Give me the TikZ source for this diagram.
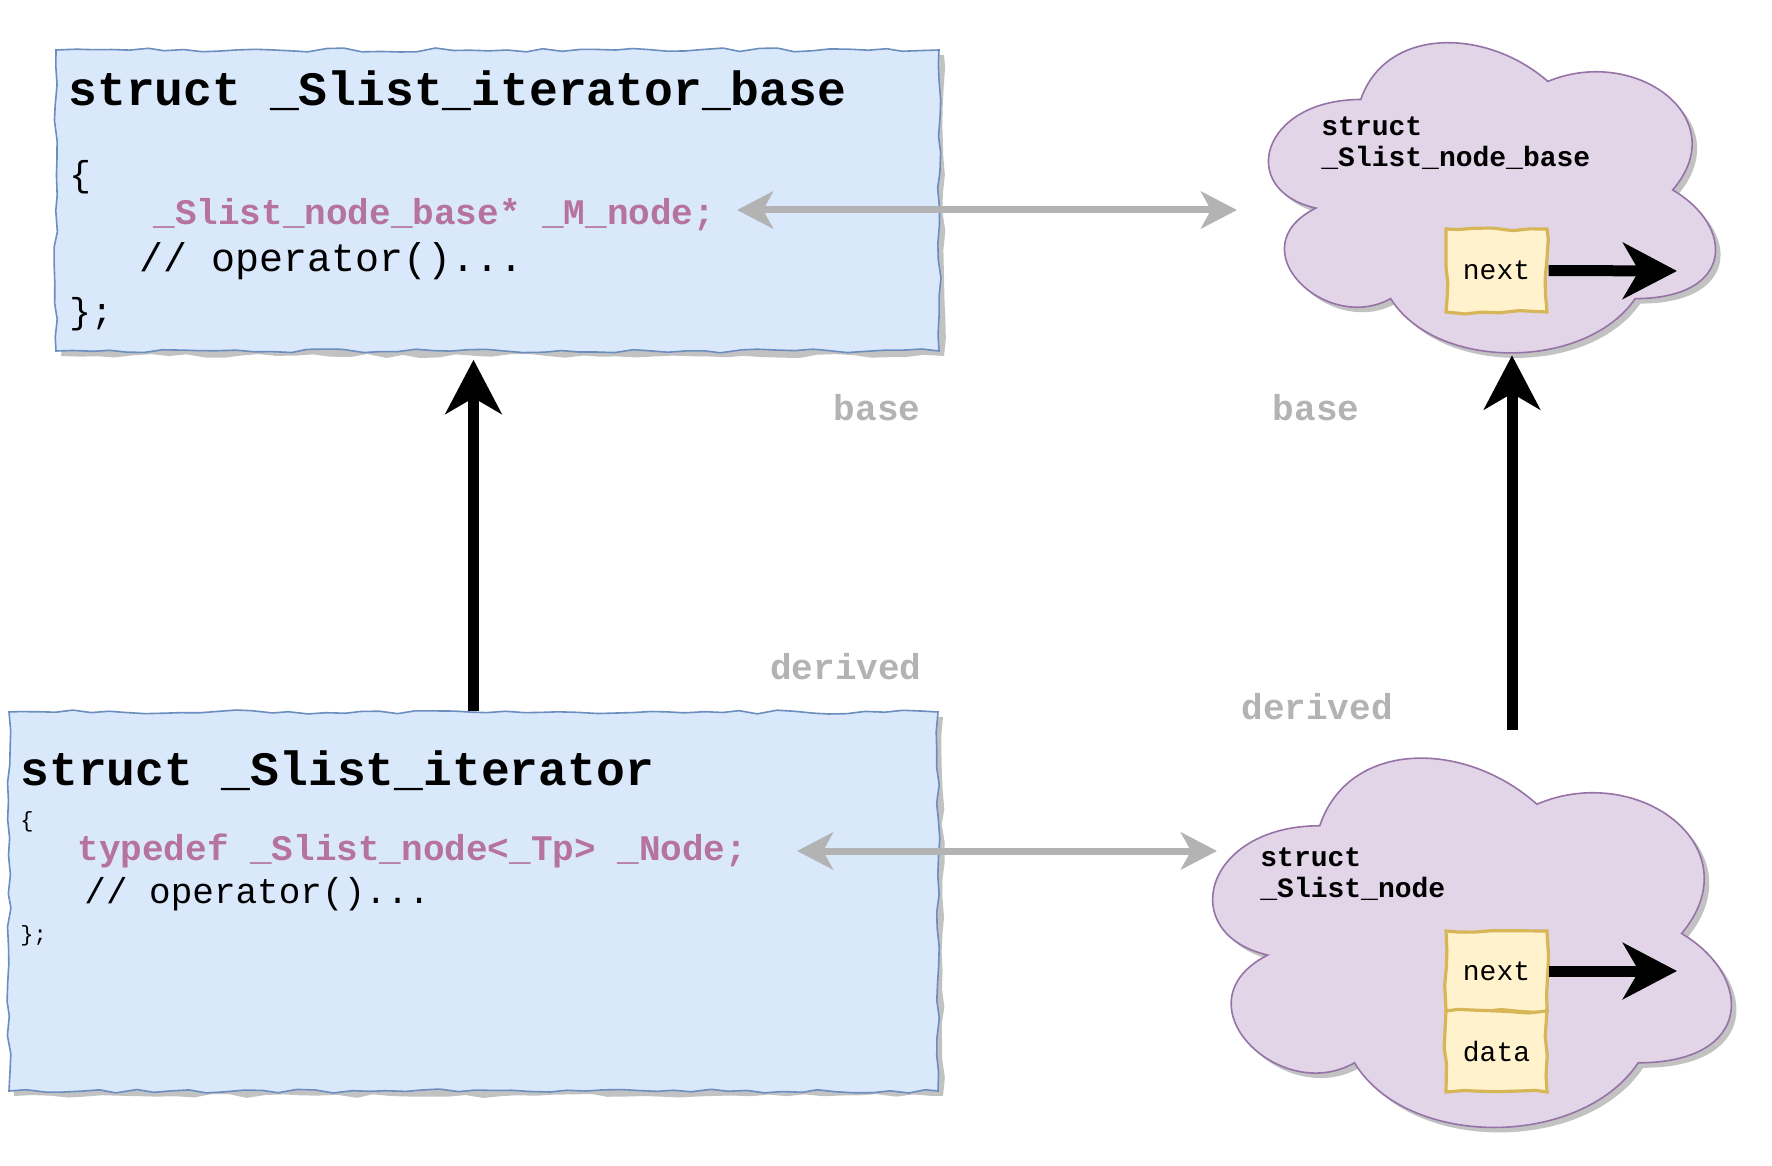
\documentclass[tikz,border=0pt]{standalone}
\usepackage{fontspec}
\newfontfamily\mono{Liberation Mono}
\usetikzlibrary{arrows.meta,decorations.pathmorphing,calc}
\definecolor{boxfill}{HTML}{DAE8FC}
\definecolor{boxline}{HTML}{6C8EBF}
\definecolor{cloudfill}{HTML}{E1D5E7}
\definecolor{cloudline}{HTML}{9673A6}
\definecolor{notefill}{HTML}{FFF2CC}
\definecolor{noteline}{HTML}{D6B656}
\definecolor{codepink}{HTML}{B5739D}
\definecolor{arrowgray}{HTML}{B3B3B3}
\definecolor{shadowc}{HTML}{C2C2C2}
\newcommand{\cloudpath}[4]{%
 ({#1+0.25*#3},{#2+0.25*#4}) .. controls ({#1+0.05*#3},{#2+0.25*#4}) and ({#1},{#2+0.5*#4}) .. ({#1+0.16*#3},{#2+0.55*#4})
 .. controls ({#1},{#2+0.66*#4}) and ({#1+0.18*#3},{#2+0.9*#4}) .. ({#1+0.31*#3},{#2+0.8*#4})
 .. controls ({#1+0.4*#3},{#2+#4}) and ({#1+0.7*#3},{#2+#4}) .. ({#1+0.8*#3},{#2+0.8*#4})
 .. controls ({#1+#3},{#2+0.8*#4}) and ({#1+#3},{#2+0.6*#4}) .. ({#1+0.875*#3},{#2+0.5*#4})
 .. controls ({#1+#3},{#2+0.3*#4}) and ({#1+0.8*#3},{#2+0.1*#4}) .. ({#1+0.625*#3},{#2+0.2*#4})
 .. controls ({#1+0.5*#3},{#2+0.05*#4}) and ({#1+0.3*#3},{#2+0.05*#4}) .. ({#1+0.25*#3},{#2+0.25*#4}) -- cycle}
\begin{document}
\begin{tikzpicture}[x=0.5pt,y=-0.5pt,
  rough/.style={decorate,decoration={random steps,segment length=9pt,amplitude=1pt}},
  codebox/.style={draw=boxline,fill=boxfill,line width=0.8pt,rough,inner sep=0pt},
  notebox/.style={draw=noteline,fill=notefill,line width=1.6pt,rough,inner sep=0pt,
    minimum width=50.5pt,font=\mono\fontsize{14pt}{16pt}\selectfont},
  cloudline/.style={draw=cloudline,fill=cloudfill,line width=0.8pt},
  anchorbox/.style={inner sep=0pt,draw=none},
  txt/.style={anchor=base west,inner sep=0pt},
  title/.style={txt,font=\mono\bfseries\fontsize{24pt}{28pt}\selectfont},
  code/.style={txt,font=\mono\fontsize{18pt}{22pt}\selectfont},
  bigcode/.style={txt,font=\mono\fontsize{20pt}{24pt}\selectfont},
  pinkcode/.style={txt,text=codepink,font=\mono\bfseries\fontsize{18pt}{22pt}\selectfont},
  smallcode/.style={txt,font=\mono\fontsize{11pt}{13pt}\selectfont},
  cloudtxt/.style={txt,font=\mono\bfseries\fontsize{14pt}{16pt}\selectfont},
  graylbl/.style={anchor=base,inner sep=0pt,text=arrowgray,font=\mono\bfseries\fontsize{18pt}{22pt}\selectfont},
  blk/.style={line width=5.5pt,-{Stealth[length=27pt,width=28pt,inset=8pt]}},
  gry/.style={draw=arrowgray,line width=3.5pt,
    {Stealth[length=18pt,width=18.5pt,inset=5pt]}-{Stealth[length=18pt,width=18.5pt,inset=5pt]}}
]
\pgfmathsetseed{7}
\useasboundingbox (0,0) rectangle (1772,1166);
\fill[white] (0,0) rectangle (1772,1166);

% shadows
\fill[shadowc,rough] (61,55) rectangle (944,356);
\fill[shadowc,rough] (14,717) rectangle (943,1096);
\fill[shadowc] [shift={(5,5)}] \cloudpath{1236}{9}{499}{362};
\fill[shadowc] [shift={(5,5)}] \cloudpath{1175}{718}{579}{431};

% code boxes
\node[codebox,minimum width=441.5pt,minimum height=150.5pt] (box1) at (497.5,200.5) {};
\node[codebox,minimum width=464.5pt,minimum height=189.5pt] (box2) at (473.5,901.5) {};

% clouds
\draw[cloudline] \cloudpath{1236}{9}{499}{362};
\draw[cloudline] \cloudpath{1175}{718}{579}{431};
\node[anchorbox,minimum width=223.5pt,minimum height=155pt] (cloud1) at (1491.5,198) {};
\node[anchorbox,minimum width=259pt,minimum height=184.5pt] (cloud2) at (1472,943.5) {};

% box 1 text
\node[title] (t1) at (68,106) {struct \_Slist\_iterator\_base};
\node[code] (t1a) at (69,187) {\{};
\node[pinkcode] (t1b) at (153,225) {\_Slist\_node\_base* \_M\_node;};
\node[bigcode] (t1c) at (139,271) {// operator()...};
\node[code] (t1d) at (69,323) {\};};

% box 2 text
\node[title] (t2) at (20,785) {struct \_Slist\_iterator};
\node[smallcode] (t2a) at (20,827) {\{};
\node[pinkcode] (t2b) at (77,860) {typedef \_Slist\_node<\_Tp> \_Node;};
\node[code] (t2c) at (84,903) {// operator()...};
\node[smallcode] (t2d) at (20,941) {\};};

% cloud texts
\node[cloudtxt] (c1a) at (1321,136) {struct};
\node[cloudtxt] (c1b) at (1321,167) {\_Slist\_node\_base};
\node[cloudtxt] (c2a) at (1260,866) {struct};
\node[cloudtxt] (c2b) at (1260,897) {\_Slist\_node};

% note boxes
\node[notebox,minimum height=41.5pt] (next1) at (1496.5,270.5) {next};
\node[notebox,minimum height=40pt] (next2) at (1496.5,971) {next};
\node[notebox,minimum height=40.5pt] (data2) at (1496.5,1051.5) {data};

% gray labels
\node[graylbl] (lb1) at (877,420) {base};
\node[graylbl] (lb2) at (1316,420) {base};
\node[graylbl] (ld1) at (846,679) {derived};
\node[graylbl] (ld2) at (1317,719) {derived};

% connectors
\coordinate (g1a) at (737,210);
\coordinate (g1b) at (1237,210);
\coordinate (g2a) at (797,851);
\coordinate (g2b) at (1217,851);
\coordinate (n1end) at (1677,271);
\coordinate (n2end) at (1677,971);
\draw[gry] (g1a) -- (g1b);
\draw[gry] (g2a) -- (g2b);
\draw[blk] (next1.east) -- (n1end);
\draw[blk] (next2.east) -- (n2end);
\draw[blk] (box2.north) -- ($(box1.south -| box2.north)+(0,8)$);
\draw[blk] ($(cloud2.north)+(40,-29)$) -- ($(cloud1.south)+(20.5,2)$);
\end{tikzpicture}
\end{document}
